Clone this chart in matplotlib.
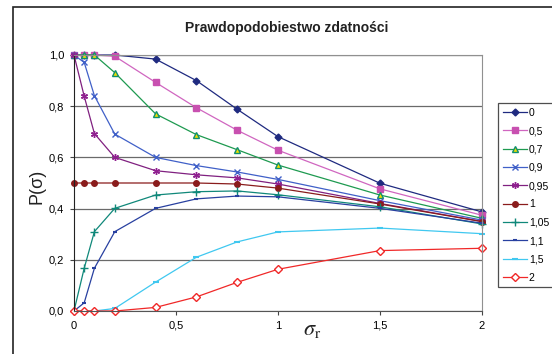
import matplotlib
matplotlib.use('Agg')
import matplotlib.pyplot as plt
from matplotlib.patches import Rectangle

plt.rcParams['font.family'] = ['Liberation Sans', 'DejaVu Sans']
plt.rcParams['mathtext.fontset'] = 'stix'

# dane
sigma_r = [0, 0.05, 0.1, 0.2, 0.4, 0.6, 0.8, 1.0, 1.5, 2.0]
labels = ['0', '0,5', '0,7', '0,9', '0,95', '1', '1,05', '1,1', '1,5', '2']

p_0 = [1.0, 1.0, 1.0, 1.0, 0.984, 0.90, 0.788, 0.681, 0.499, 0.387]
p_05 = [1.0, 1.0, 1.0, 0.995, 0.893, 0.794, 0.706, 0.628, 0.477, 0.374]
p_07 = [1.0, 1.0, 1.0, 0.931, 0.770, 0.689, 0.630, 0.570, 0.453, 0.362]
p_09 = [1.0, 0.971, 0.841, 0.691, 0.600, 0.568, 0.543, 0.514, 0.431, 0.355]
p_095 = [1.0, 0.839, 0.693, 0.600, 0.548, 0.532, 0.520, 0.496, 0.420, 0.350]
p_1 = [0.5, 0.5, 0.5, 0.5, 0.5, 0.5, 0.496, 0.480, 0.418, 0.349]
p_105 = [0.0, 0.167, 0.310, 0.401, 0.453, 0.466, 0.469, 0.454, 0.407, 0.340]
p_11 = [0.0, 0.032, 0.167, 0.310, 0.401, 0.438, 0.449, 0.446, 0.401, 0.343]
p_15 = [0.0, 0.0, 0.0, 0.01, 0.113, 0.210, 0.270, 0.309, 0.324, 0.302]
p_2 = [0.0, 0.0, 0.0, 0.0, 0.014, 0.055, 0.112, 0.163, 0.236, 0.245]

series = [p_0, p_05, p_07, p_09, p_095, p_1, p_105, p_11, p_15, p_2]

styles = [
    dict(color='#1F2A80', marker='D', ms=3.5, mfc='#1F2A80', mec='#1F2A80'),
    dict(color='#D066C0', marker='s', ms=4, mfc='#C850B0', mec='#C850B0'),
    dict(color='#1E9A50', marker='^', ms=5, mfc='#F0E000', mec='#0F8F70'),
    dict(color='#4060C8', marker='x', ms=5, mfc='none', mec='#4060C8', mew=1),
    dict(color='#802080', marker=(6, 2, 0), ms=5, mfc='none', mec='#902090', mew=1),
    dict(color='#8A1C1C', marker='o', ms=4, mfc='#8A1C1C', mec='#8A1C1C'),
    dict(color='#10887A', marker='+', ms=6, mfc='none', mec='#10887A', mew=1),
    dict(color='#2840A0', marker='_', ms=3, mfc='#2840A0', mec='#2840A0', mew=1.5),
    dict(color='#40C8F0', marker='_', ms=5, mfc='#40C8F0', mec='#40C8F0', mew=1.5),
    dict(color='#F02828', marker='D', ms=4, mfc='white', mec='#F02828', mew=1),
]

fig = plt.figure(figsize=(5.52, 3.54), dpi=100)

# ramka wykresu (wychodzi poza obraz z prawej i z dołu)
fig.add_artist(Rectangle((13 / 552, -0.2), 1.2, 1.2 - 7 / 354, transform=fig.transFigure,
                         fill=False, edgecolor='#222222', linewidth=1.2))

ax = fig.add_axes([74 / 552, 1 - 311 / 354, 408 / 552, 256 / 354])

for y, lab, st in zip(series, labels, styles):
    ax.plot(sigma_r, y, label=lab, linewidth=0.9, clip_on=False, **st)

ax.set_xlim(0, 2)
ax.set_ylim(0, 1.0)
ax.set_xticks([0, 0.5, 1, 1.5, 2])
ax.set_xticklabels(['0', '0,5', '1', '1,5', '2'])
ax.set_yticks([0, 0.2, 0.4, 0.6, 0.8, 1.0])
ax.set_yticklabels(['0,0', '0,2', '0,4', '0,6', '0,8', '1,0'])
ax.tick_params(axis='both', labelsize=8, length=3, width=0.8, color='#444444', pad=4)
ax.yaxis.grid(True, color='#6a6a6a', linewidth=0.9)
ax.set_axisbelow(True)
for s in ['top', 'right', 'bottom']:
    ax.spines[s].set_color('#909090')
ax.spines['left'].set_color('#222222')
ax.spines['bottom'].set_color('#555555')

fig.text(287 / 552, 1 - 28 / 354, 'Prawdopodobiestwo zdatności', ha='center', va='center',
         fontsize=10, fontweight='bold', color='#222222')
fig.text(312 / 552, 1 - 330 / 354, r'$\sigma_\mathrm{r}$', ha='center', va='center',
         fontsize=16, color='#222222')
fig.text(37 / 552, 1 - 186 / 354, 'P(σ)', ha='center', va='center', rotation=90,
         fontsize=13, color='#222222', family=['Liberation Sans', 'DejaVu Sans'])

leg = fig.legend(loc='upper left', bbox_to_anchor=(498 / 552, 1 - 103 / 354),
                 fontsize=7.5, frameon=True, fancybox=False, edgecolor='#222222',
                 handlelength=2.3, handletextpad=0.2, labelspacing=0.8,
                 borderpad=0.45, borderaxespad=0)
leg.get_frame().set_linewidth(0.9)

fig.savefig('out.png', dpi=100)
